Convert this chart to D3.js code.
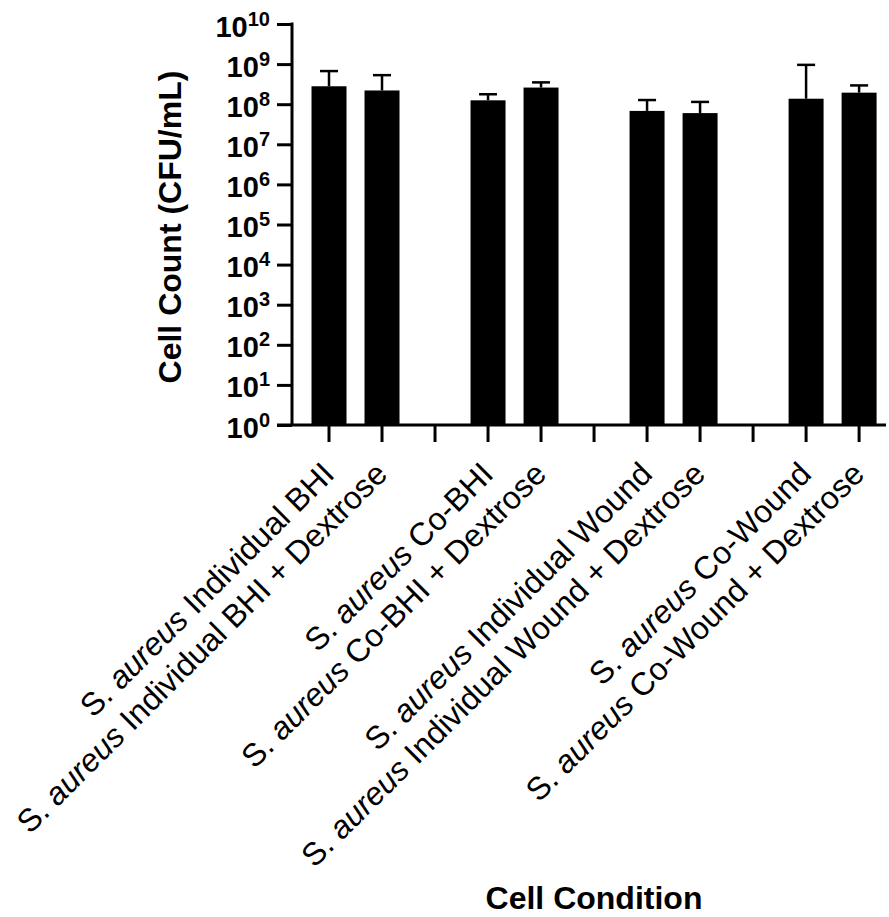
<!DOCTYPE html>
<html>
<head>
<meta charset="utf-8">
<script src="https://cdn.jsdelivr.net/npm/d3@7"></script>
<style>
	body { margin: 0; background: #fff; }
	svg text { font-family: Arial, "Liberation Sans", sans-serif; fill: #000; }
</style>
</head>
<body>
<div id="chart"></div>
<script>
	// S. aureus cell counts per condition
	var categories = [
		"Individual BHI",
		"Individual BHI + Dextrose",
		"Co-BHI",
		"Co-BHI + Dextrose",
		"Individual Wound",
		"Individual Wound + Dextrose",
		"Co-Wound",
		"Co-Wound + Dextrose"
	];
	var means = [2.8e8, 2.2e8, 1.25e8, 2.6e8, 6.8e7, 6.0e7, 1.37e8, 1.94e8];
	var errors = [3.9e8, 3.1e8, 5.2e7, 9.0e7, 5.9e7, 5.4e7, 8.2e8, 1.0e8];
	var yExponents = [0, 1, 2, 3, 4, 5, 6, 7, 8, 9, 10];

	var width = 889;
	var height = 917;
	var axisX = 292;
	var axisY = 425;

	// slots: two bars per group, an empty slot between groups
	var slots = [];
	categories.forEach(function(c, i){
		slots.push("c" + i);
		if(i % 2 == 1 && i < categories.length - 1){
			slots.push("gap" + i);
		}
	});

	var svg = d3.select("#chart")
		.append("svg")
		.attr("width", width)
		.attr("height", height);

	var x = d3.scaleBand()
		.domain(slots)
		.range([302.5, 885.6])
		.paddingInner(0.34)
		.paddingOuter(0.17);

	var y = d3.scaleLog()
		.domain([1, 1e10])
		.range([axisY, 24]);

	var data = categories.map(function(c, i){
		return { slot: "c" + i, name: c, mean: means[i], err: errors[i] };
	});

	// bars
	svg.selectAll(".bar")
		.data(data)
		.enter()
		.append("rect")
		.attr("class", "bar")
		.attr("x", function(d){ return x(d.slot); })
		.attr("y", function(d){ return y(d.mean); })
		.attr("width", x.bandwidth())
		.attr("height", function(d){ return axisY - y(d.mean); })
		.attr("fill", "#000");

	// error bars (upper only)
	var eb = svg.selectAll(".err")
		.data(data)
		.enter()
		.append("g")
		.attr("class", "err")
		.attr("stroke", "#000")
		.attr("stroke-width", 2.5);
	eb.append("line")
		.attr("x1", function(d){ return x(d.slot) + x.bandwidth() / 2; })
		.attr("x2", function(d){ return x(d.slot) + x.bandwidth() / 2; })
		.attr("y1", function(d){ return y(d.mean); })
		.attr("y2", function(d){ return y(d.mean + d.err); });
	eb.append("line")
		.attr("x1", function(d){ return x(d.slot) + x.bandwidth() / 2 - 9; })
		.attr("x2", function(d){ return x(d.slot) + x.bandwidth() / 2 + 9; })
		.attr("y1", function(d){ return y(d.mean + d.err); })
		.attr("y2", function(d){ return y(d.mean + d.err); });

	// y axis
	var yAxis = svg.append("g")
		.attr("transform", "translate(" + axisX + ",0)")
		.call(d3.axisLeft(y)
			.tickValues(yExponents.map(function(e){ return Math.pow(10, e); }))
			.tickSize(15)
			.tickSizeOuter(0)
			.tickFormat(""));
	yAxis.select(".domain").remove();
	yAxis.selectAll(".tick line").attr("stroke-width", 3);
	yAxis.selectAll(".tick")
		.append("text")
		.attr("x", -22)
		.attr("y", 12)
		.attr("text-anchor", "end")
		.attr("font-weight", "bold")
		.each(function(d){
			var t = d3.select(this);
			var e = Math.round(Math.log10(d));
			t.append("tspan").attr("font-size", 29).text("10");
			t.append("tspan").attr("font-size", 20).attr("dy", -11).text(e);
		});
	svg.append("line")
		.attr("x1", axisX).attr("x2", axisX)
		.attr("y1", y(1e10) - 1.5).attr("y2", axisY)
		.attr("stroke", "#000").attr("stroke-width", 3);

	// x axis
	var xAxis = svg.append("g")
		.attr("transform", "translate(0," + axisY + ")")
		.call(d3.axisBottom(x).tickSize(17).tickSizeOuter(0).tickFormat(""));
	xAxis.select(".domain").remove();
	xAxis.selectAll(".tick line").attr("stroke-width", 3);
	svg.append("line")
		.attr("x1", axisX - 15).attr("x2", 886)
		.attr("y1", axisY).attr("y2", axisY)
		.attr("stroke", "#000").attr("stroke-width", 3);

	// rotated category labels
	svg.selectAll(".xlab")
		.data(data)
		.enter()
		.append("text")
		.attr("class", "xlab")
		.attr("font-size", 32)
		.attr("text-anchor", "end")
		.attr("transform", function(d){
			return "translate(" + (x(d.slot) + x.bandwidth() / 2 + 7) + ",476) rotate(-45)";
		})
		.each(function(d){
			var t = d3.select(this);
			t.append("tspan").text("S. ");
			t.append("tspan").attr("font-style", "italic").text("aureus");
			t.append("tspan").text(" " + d.name);
		});

	// axis titles
	svg.append("text")
		.attr("font-size", 32)
		.attr("font-weight", "bold")
		.attr("text-anchor", "middle")
		.attr("transform", "translate(181,227) rotate(-90)")
		.text("Cell Count (CFU/mL)");

	svg.append("text")
		.attr("font-size", 32)
		.attr("font-weight", "bold")
		.attr("text-anchor", "middle")
		.attr("x", 594)
		.attr("y", 909)
		.text("Cell Condition");
</script>
</body>
</html>
